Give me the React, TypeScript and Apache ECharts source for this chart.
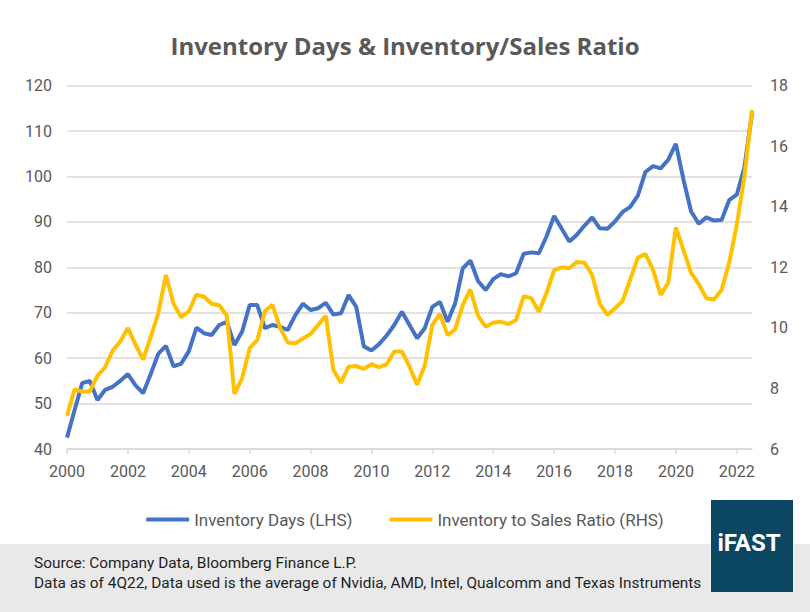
import React, { useEffect, useRef } from "react";
import * as echarts from "echarts";

const startYear = 2000;
const pointCount = 91;

const inventoryDays = [
  42.5, 48.6, 54.5, 55.0, 50.8, 53.0, 53.7, 55.0, 56.5, 54.0,
  52.3, 56.5, 61.0, 62.7, 58.2, 58.8, 61.5, 66.7, 65.5, 65.1,
  67.3, 68.0, 62.9, 65.8, 71.7, 71.7, 66.6, 67.3, 66.9, 66.2,
  69.5, 72.0, 70.6, 71.0, 72.2, 69.6, 69.9, 73.9, 71.3, 62.6,
  61.7, 63.1, 65.0, 67.3, 70.2, 67.3, 64.4, 66.6, 71.3, 72.4,
  68.0, 72.1, 79.8, 81.5, 77.0, 75.0, 77.4, 78.5, 78.0, 78.7,
  83.0, 83.3, 83.1, 86.8, 91.3, 88.5, 85.7, 87.2, 89.2, 91.0,
  88.6, 88.5, 90.1, 92.2, 93.3, 95.8, 101.0, 102.3, 101.8, 103.7,
  107.2, 99.3, 92.3, 89.6, 91.0, 90.3, 90.4, 94.8, 96.0, 102.0,
  114.0,
];

const inventoryToSales = [
  7.1, 7.97, 7.9, 7.9, 8.42, 8.7, 9.25, 9.55, 10.0, 9.45,
  8.95, 9.7, 10.5, 11.75, 10.8, 10.35, 10.55, 11.1, 11.03, 10.8,
  10.75, 10.4, 7.82, 8.33, 9.33, 9.6, 10.55, 10.76, 10.0, 9.52,
  9.49, 9.65, 9.8, 10.1, 10.4, 8.61, 8.19, 8.72, 8.74, 8.65,
  8.8, 8.7, 8.8, 9.22, 9.22, 8.72, 8.12, 8.75, 10.1, 10.46,
  9.76, 9.95, 10.76, 11.27, 10.4, 10.04, 10.17, 10.2, 10.13, 10.26,
  11.05, 10.98, 10.53, 11.15, 11.91, 12.0, 11.97, 12.18, 12.15, 11.75,
  10.8, 10.43, 10.65, 10.89, 11.6, 12.32, 12.44, 11.92, 11.09, 11.49,
  13.32, 12.57, 11.82, 11.45, 10.98, 10.94, 11.25, 12.15, 13.4, 15.0,
  17.2,
];

const quarters: string[] = [];
for (let i = 0; i < pointCount; i++) {
  quarters.push(`${startYear + Math.floor(i / 4)}Q${(i % 4) + 1}`);
}

const seriesNames = ["Inventory Days (LHS)", "Inventory to Sales Ratio (RHS)"];
const titleText = "Inventory Days & Inventory/Sales Ratio";
const sourceLines = [
  "Source: Company Data, Bloomberg Finance L.P.",
  "Data as of 4Q22, Data used is the average of Nvidia, AMD, Intel, Qualcomm and Texas Instruments",
];

const FONT = "Roboto, 'Noto Sans', sans-serif";
const TITLE_FONT = "'Open Sans', Roboto, sans-serif";
const GREY_TEXT = "#595959";
const GRID = "#D9D9D9";

export default function App() {
  const ref = useRef<HTMLDivElement>(null);

  useEffect(() => {
    if (!ref.current) return;
    const chart = echarts.init(ref.current, undefined, { renderer: "svg" });
    chart.setOption({
      animation: false,
      backgroundColor: "#FFFFFF",
      title: {
        text: titleText,
        left: "center",
        top: 28,
        textStyle: { fontFamily: TITLE_FONT, fontSize: 24, fontWeight: "bold", color: GREY_TEXT },
      },
      legend: {
        data: seriesNames,
        left: "center",
        top: 506,
        icon: "roundRect",
        itemWidth: 43,
        itemHeight: 4,
        itemGap: 37,
        textStyle: { fontFamily: FONT, fontSize: 17, color: GREY_TEXT },
      },
      grid: { left: 67, right: 58, top: 85.7, bottom: 163, containLabel: false },
      xAxis: {
        type: "category",
        data: quarters,
        boundaryGap: false,
        axisLine: { lineStyle: { color: GRID, width: 1.5 } },
        axisTick: { show: true, interval: 7, length: 5, lineStyle: { color: GRID, width: 1.5 } },
        axisLabel: {
          interval: 7,
          margin: 14,
          fontFamily: FONT,
          fontSize: 16,
          color: GREY_TEXT,
          formatter: (v: string) => v.slice(0, 4),
        },
        splitLine: { show: false },
      },
      yAxis: [
        {
          type: "value",
          min: 40,
          max: 120,
          interval: 10,
          position: "left",
          axisLine: { show: false },
          axisTick: { show: false },
          axisLabel: { margin: 15, fontFamily: FONT, fontSize: 16, color: GREY_TEXT },
          splitLine: { lineStyle: { color: GRID, width: 1.5 } },
        },
        {
          type: "value",
          min: 6,
          max: 18,
          interval: 2,
          position: "right",
          axisLine: { show: false },
          axisTick: { show: false },
          axisLabel: { margin: 18, fontFamily: FONT, fontSize: 16, color: GREY_TEXT },
          splitLine: { show: false },
        },
      ],
      series: [
        {
          name: seriesNames[0],
          type: "line",
          yAxisIndex: 0,
          data: inventoryDays,
          showSymbol: false,
          lineStyle: { color: "#4472C4", width: 4 },
          itemStyle: { color: "#4472C4" },
          z: 3,
        },
        {
          name: seriesNames[1],
          type: "line",
          yAxisIndex: 1,
          data: inventoryToSales,
          showSymbol: false,
          lineStyle: { color: "#FFC000", width: 4 },
          itemStyle: { color: "#FFC000" },
          z: 4,
        },
      ],
      graphic: [
        {
          type: "rect",
          shape: { x: 0, y: 544, width: 810, height: 68 },
          style: { fill: "#E9E9E9" },
          z: 0,
        },
        {
          type: "text",
          x: 34,
          y: 563,
          style: {
            text: sourceLines[0],
            fontFamily: FONT,
            fontSize: 15.4,
            fill: "#1F1F1F",
            textVerticalAlign: "middle",
          },
          z: 2,
        },
        {
          type: "text",
          x: 34,
          y: 583,
          style: {
            text: sourceLines[1],
            fontFamily: FONT,
            fontSize: 15.4,
            fill: "#1F1F1F",
            textVerticalAlign: "middle",
          },
          z: 2,
        },
        {
          type: "rect",
          shape: { x: 711, y: 500, width: 82, height: 92 },
          style: { fill: "#0B4762" },
          z: 3,
        },
        {
          type: "text",
          x: 749,
          y: 543,
          style: {
            text: "iFAST",
            fontFamily: FONT,
            fontSize: 24,
            fontWeight: "bold",
            fill: "#FFFFFF",
            textAlign: "center",
            textVerticalAlign: "middle",
          },
          z: 4,
        },
      ],
    });
    return () => chart.dispose();
  }, []);

  return (
    <div
      ref={ref}
      style={{ position: "absolute", left: 0, top: 0, width: 810, height: 612 }}
    />
  );
}
